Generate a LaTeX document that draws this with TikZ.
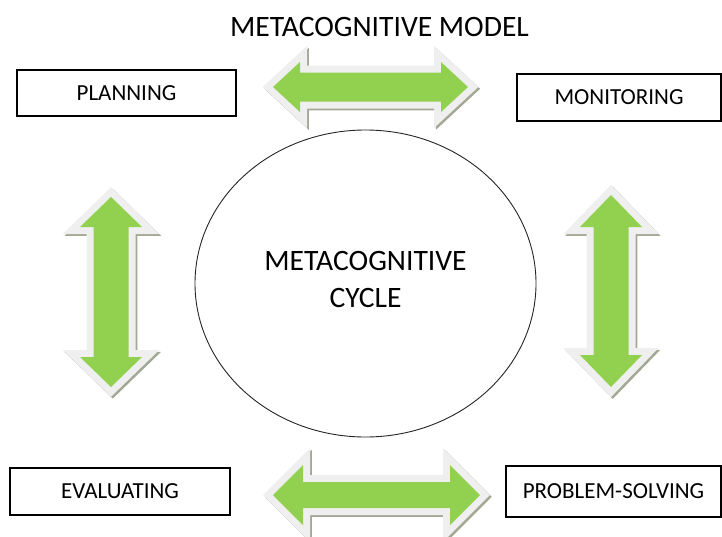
\documentclass[tikz,border=0pt]{standalone}
\usepackage{fontspec}
\setmainfont{Carlito}
\usetikzlibrary{shapes.geometric}
\definecolor{arrowgreen}{HTML}{92D050}
\definecolor{bevelgray}{HTML}{EFEFEF}
\definecolor{shadegray}{HTML}{A2A894}
% horizontal double arrow path: style, cx, cy, L, h, w, s
\newcommand\Hpath[7]{\path[#1] ({#2-#4},#3) -- ({#2-#4+#5},{#3-#6}) -- ({#2-#4+#5},{#3-#7}) -- ({#2+#4-#5},{#3-#7}) -- ({#2+#4-#5},{#3-#6}) -- ({#2+#4},#3) -- ({#2+#4-#5},{#3+#6}) -- ({#2+#4-#5},{#3+#7}) -- ({#2-#4+#5},{#3+#7}) -- ({#2-#4+#5},{#3+#6}) -- cycle;}
% vertical double arrow path: style, cx, cy, L, h, w, s
\newcommand\Vpath[7]{\path[#1] (#2,{#3-#4}) -- ({#2+#6},{#3-#4+#5}) -- ({#2+#7},{#3-#4+#5}) -- ({#2+#7},{#3+#4-#5}) -- ({#2+#6},{#3+#4-#5}) -- (#2,{#3+#4}) -- ({#2-#6},{#3+#4-#5}) -- ({#2-#7},{#3+#4-#5}) -- ({#2-#7},{#3-#4+#5}) -- ({#2-#6},{#3-#4+#5}) -- cycle;}
\newcommand\bevelH[6]{%
  \Hpath{shadowline}{#1+1.8}{#2+1.8}{#3}{#4}{#5}{#6}%
  \Hpath{bevelline}{#1}{#2}{#3}{#4}{#5}{#6}%
  \Hpath{greenbody}{#1}{#2}{#3}{#4}{#5}{#6}}
\newcommand\bevelV[6]{%
  \Vpath{shadowline}{#1+1.8}{#2+1.8}{#3}{#4}{#5}{#6}%
  \Vpath{bevelline}{#1}{#2}{#3}{#4}{#5}{#6}%
  \Vpath{greenbody}{#1}{#2}{#3}{#4}{#5}{#6}}
\tikzset{
  shadowline/.style={draw=shadegray, fill=shadegray, line width=14pt, line join=miter},
  bevelline/.style={draw=bevelgray, fill=bevelgray, line width=14pt, line join=miter},
  greenbody/.style={fill=arrowgreen},
  labelbox/.style={draw=black, line width=1.1pt, inner sep=0pt, text height=14.8pt, text depth=0pt,
    font=\fontsize{23}{28}\selectfont},
  bigtext/.style={inner sep=0pt, font=\fontsize{29.6}{36}\selectfont, anchor=base},
}
\begin{document}
\begin{tikzpicture}[x=1pt,y=-1pt]
\useasboundingbox (0,0) rectangle (722,536);
\fill[white] (0,0) rectangle (722,536);

% arrows
\bevelH{370.5}{87}{97.5}{27}{25}{14.5}
\bevelH{376.5}{495}{103.5}{30}{30}{13}
\bevelV{111}{292}{95}{30}{31}{17.5}
\bevelV{611}{291}{96}{32}{31}{17.5}

% title
\node[bigtext] (title) at (379.5,36) {METACOGNITIVE MODEL};

% central ellipse
\node[draw=black!85, line width=0.9pt, ellipse, minimum width=341pt, minimum height=307pt, inner sep=0pt] (cyc) at (365.5,283.5) {};
\node[bigtext] (cyc1) at (365.5,270) {METACOGNITIVE};
\node[bigtext] (cyc2) at (365.5,307) {CYCLE};

% boxes
\node[labelbox, minimum width=219pt, minimum height=46pt] (plan) at (126.5,93) {PLANNING};
\node[labelbox, minimum width=204pt, minimum height=47pt] (mon) at (619,97.5) {MONITORING};
\node[labelbox, minimum width=220pt, minimum height=47pt] (eval) at (120,491.5) {EVALUATING};
\node[labelbox, minimum width=215pt, minimum height=51pt] (prob) at (613.5,491.5) {PROBLEM-SOLVING};
\end{tikzpicture}
\end{document}
